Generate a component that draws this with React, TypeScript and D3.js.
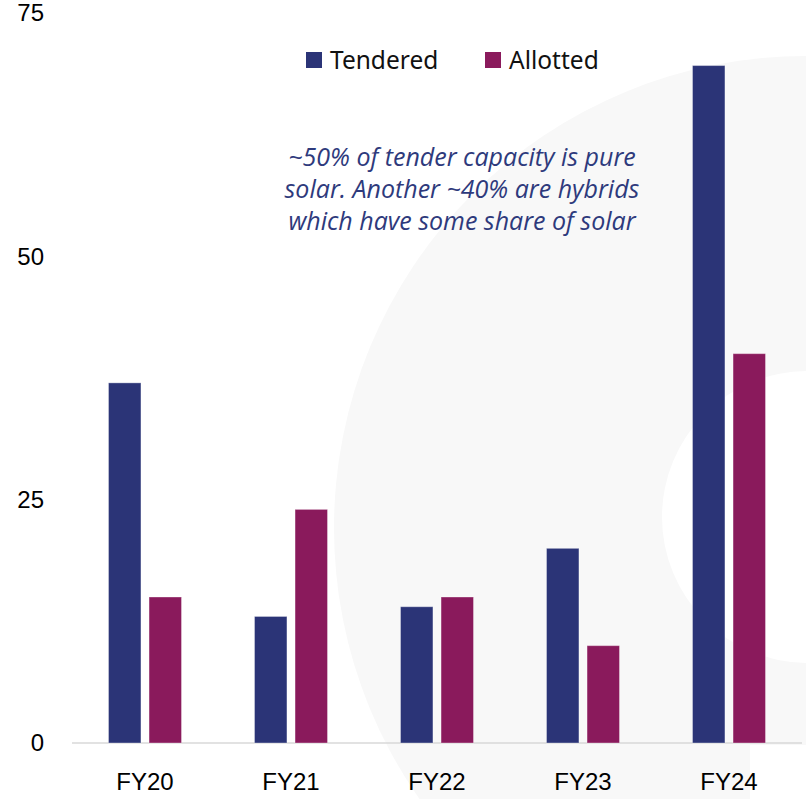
import React, { useEffect, useRef } from 'react';
import * as d3 from 'd3';

const categories = ['FY20', 'FY21', 'FY22', 'FY23', 'FY24'];
const seriesNames = ['Tendered', 'Allotted'];
const tendered = [37, 13, 14, 20, 69.6];
const allotted = [15, 24, 15, 10, 40];
const yTicks = [0, 25, 50, 75];
const noteLines = [
  '~50% of tender capacity is pure',
  'solar. Another ~40% are hybrids',
  'which have some share of solar',
];

const W = 806;
const H = 799;
const colors: Record<string, string> = { Tendered: '#2b3477', Allotted: '#8a1a5c' };

const App: React.FC = () => {
  const svgRef = useRef<SVGSVGElement>(null);

  useEffect(() => {
    if (!svgRef.current) return;
    const svg = d3.select(svgRef.current);
    svg.selectAll('*').remove();

    // background decoration
    svg.append('rect').attr('width', W).attr('height', H).attr('fill', '#ffffff');
    svg.append('circle').attr('cx', 806).attr('cy', 528).attr('r', 472).attr('fill', '#f8f8f8');
    svg.append('circle').attr('cx', 808).attr('cy', 517).attr('r', 146).attr('fill', '#ffffff');
    svg.append('rect').attr('x', 750).attr('y', 745).attr('width', 56).attr('height', 54).attr('fill', '#ffffff');

    const x0 = d3.scaleBand<string>()
      .domain(categories)
      .range([72, 802])
      .paddingInner(0.5)
      .paddingOuter(0.25);
    const x1 = d3.scaleBand<string>()
      .domain(seriesNames)
      .range([0, x0.bandwidth()])
      .paddingInner(0.2);
    const y = d3.scaleLinear().domain([0, 75]).range([743, 13]);

    const rows = categories.map((c, i) => ({
      cat: c,
      vals: [
        { key: 'Tendered', value: tendered[i] },
        { key: 'Allotted', value: allotted[i] },
      ],
    }));

    // baseline
    svg.append('line')
      .attr('x1', 72).attr('x2', 802)
      .attr('y1', y(0)).attr('y2', y(0))
      .attr('stroke', '#d9d9d9')
      .attr('stroke-width', 1.5);

    // bars
    const groups = svg.selectAll('.grp')
      .data(rows)
      .enter()
      .append('g')
      .attr('class', 'grp')
      .attr('transform', d => `translate(${x0(d.cat)},0)`);

    groups.selectAll('rect')
      .data(d => d.vals)
      .enter()
      .append('rect')
      .attr('x', d => x1(d.key) || 0)
      .attr('width', x1.bandwidth())
      .attr('y', d => y(d.value))
      .attr('height', d => y(0) - y(d.value))
      .attr('fill', d => colors[d.key])
      .attr('stroke', '#ffffff')
      .attr('stroke-opacity', 0.35)
      .attr('stroke-width', 1);

    // y axis labels
    svg.selectAll('.ytick')
      .data(yTicks)
      .enter()
      .append('text')
      .attr('class', 'ytick')
      .attr('x', 44)
      .attr('y', d => y(d))
      .attr('dy', '0.35em')
      .attr('text-anchor', 'end')
      .style('font-family', '"Liberation Sans", Arial, sans-serif')
      .style('font-size', '24px')
      .style('fill', '#000')
      .text(d => String(d));

    // x axis labels
    svg.selectAll('.xtick')
      .data(categories)
      .enter()
      .append('text')
      .attr('class', 'xtick')
      .attr('x', d => (x0(d) || 0) + x0.bandwidth() / 2)
      .attr('y', 790)
      .attr('text-anchor', 'middle')
      .style('font-family', '"Liberation Sans", Arial, sans-serif')
      .style('font-size', '24px')
      .style('fill', '#000')
      .text(d => d);

    // legend
    const legendX = [306, 485];
    seriesNames.forEach((s, i) => {
      svg.append('rect')
        .attr('x', legendX[i]).attr('y', 52)
        .attr('width', 16).attr('height', 16)
        .attr('fill', colors[s]);
      svg.append('text')
        .attr('x', legendX[i] + 24)
        .attr('y', 69)
        .style('font-family', '"Noto Sans", sans-serif')
        .style('font-size', '24.5px')
        .style('fill', '#111')
        .text(s);
    });

    // annotation
    svg.selectAll('.note')
      .data(noteLines)
      .enter()
      .append('text')
      .attr('class', 'note')
      .attr('x', 462)
      .attr('y', (_d, i) => 166 + i * 32)
      .attr('text-anchor', 'middle')
      .style('font-family', '"Open Sans", sans-serif')
      .style('font-style', 'italic')
      .style('font-size', '25px')
      .style('fill', '#2e3a7c')
      .text(d => d);
  }, []);

  return (
    <svg
      ref={svgRef}
      width={W}
      height={H}
      style={{ position: 'absolute', left: 0, top: 0, display: 'block' }}
    />
  );
};

export default App;
